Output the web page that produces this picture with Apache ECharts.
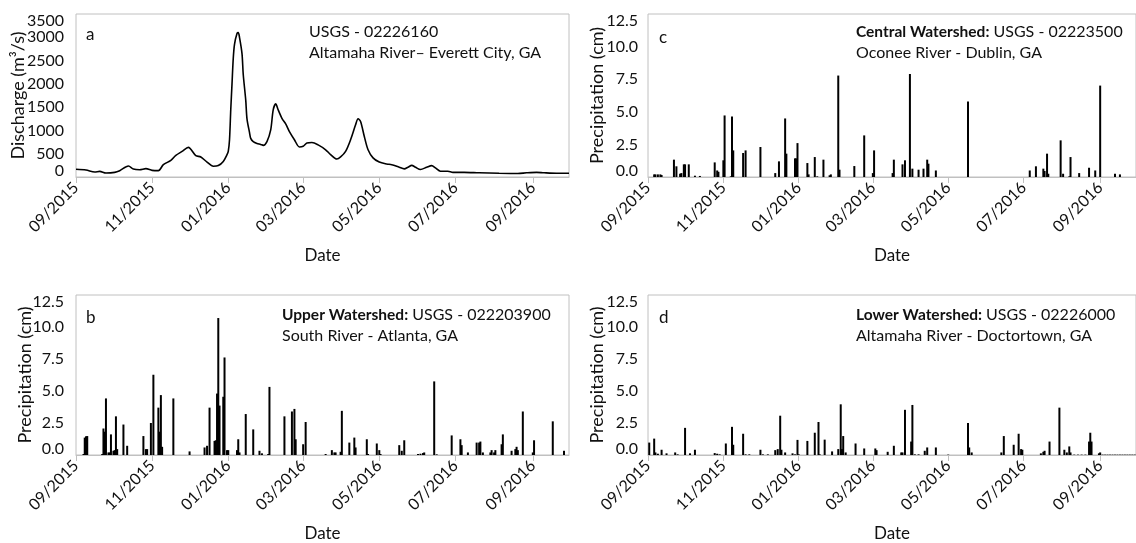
<!DOCTYPE html>
<html><head><meta charset="utf-8">
<script src="https://cdn.jsdelivr.net/npm/echarts@6/dist/echarts.min.js"></script>
<style>html,body{margin:0;padding:0;background:#fff}#c{width:1136px;height:543px}</style>
</head><body><div id="c"></div>
<script>
// ---- tick labels ----
const tickDates = ['2015-09-01','2015-11-01','2016-01-01','2016-03-01','2016-05-01','2016-07-01','2016-09-01'];
const tickLabels = ['09/2015','11/2015','01/2016','03/2016','05/2016','07/2016','09/2016'];

// ---- panel a: discharge (m3/s) ----
const discharge = [
['2015-09-01',165],['2015-09-09',150],['2015-09-16',107],['2015-09-20',121],['2015-09-25',86],['2015-10-02',100],
['2015-10-06',136],['2015-10-13',235],['2015-10-17',171],['2015-10-22',157],['2015-10-27',179],['2015-11-01',143],
['2015-11-06',136],['2015-11-10',264],['2015-11-16',357],['2015-11-20',464],['2015-11-25',550],['2015-11-30',636],
['2015-12-06',460],['2015-12-10',430],['2015-12-15',320],['2015-12-20',230],['2015-12-24',245],['2015-12-28',335],
['2015-12-31',480],['2016-01-01',550],['2016-01-02',800],['2016-01-03',1450],['2016-01-04',2000],['2016-01-05',2550],
['2016-01-06',2850],['2016-01-08',3080],['2016-01-09',3100],['2016-01-10',3000],['2016-01-12',2650],['2016-01-13',2200],
['2016-01-15',1650],['2016-01-16',1250],['2016-01-18',960],['2016-01-19',830],['2016-01-21',760],['2016-01-24',720],
['2016-01-27',700],['2016-01-29',680],['2016-02-01',760],['2016-02-04',1010],['2016-02-06',1440],['2016-02-08',1570],
['2016-02-10',1440],['2016-02-13',1260],['2016-02-16',1140],['2016-02-19',975],['2016-02-23',800],['2016-02-27',645],
['2016-03-01',660],['2016-03-04',730],['2016-03-08',740],['2016-03-13',690],['2016-03-19',585],['2016-03-23',480],
['2016-03-28',385],['2016-03-31',430],['2016-04-04',550],['2016-04-08',800],['2016-04-12',1120],['2016-04-14',1250],
['2016-04-16',1190],['2016-04-19',870],['2016-04-22',585],['2016-04-26',410],['2016-05-01',320],['2016-05-07',280],
['2016-05-11',265],['2016-05-17',210],['2016-05-21',175],['2016-05-24',210],['2016-05-27',250],['2016-05-30',210],
['2016-06-03',160],['2016-06-08',210],['2016-06-12',245],['2016-06-15',195],['2016-06-19',125],['2016-06-25',125],
['2016-06-29',100],['2016-07-08',100],['2016-07-20',90],['2016-08-05',80],['2016-08-20',75],['2016-08-27',90],
['2016-09-04',100],['2016-09-10',90],['2016-09-20',80],['2016-09-30',80]
];

// ---- panel b: upper watershed precipitation (cm) ----
const upperPrecip = [
['2015-09-07',0.08],['2015-09-08',1.36],['2015-09-09',1.46],['2015-09-10',1.48],['2015-09-22',0.08],['2015-09-23',2.07],
['2015-09-24',1.82],['2015-09-25',4.42],['2015-09-27',0.2],['2015-09-28',0.2],['2015-09-29',1.61],['2015-10-01',0.33],
['2015-10-02',0.38],['2015-10-03',3.02],['2015-10-04',0.46],['2015-10-09',2.38],['2015-10-12',0.72],['2015-10-25',1.48],
['2015-10-27',0.46],['2015-10-28',0.46],['2015-10-31',2.5],['2015-11-02',6.27],['2015-11-06',3.7],['2015-11-07',1.82],
['2015-11-08',4.68],['2015-11-09',0.64],['2015-11-18',4.42],['2015-12-01',0.28],['2015-12-13',0.59],['2015-12-15',0.72],
['2015-12-17',3.7],['2015-12-21',1.1],['2015-12-22',1.15],['2015-12-23',4.8],['2015-12-24',10.7],['2015-12-25',3.86],
['2015-12-28',4.55],['2015-12-29',7.62],['2015-12-31',0.38],['2016-01-01',0.38],['2016-01-08',0.38],['2016-01-09',1.23],
['2016-01-10',0.2],['2016-01-15',3.2],['2016-01-21',2.0],['2016-01-26',0.33],['2016-01-28',0.13],['2016-02-02',0.08],
['2016-02-03',5.32],['2016-02-15',3.02],['2016-02-21',3.4],['2016-02-23',3.6],['2016-02-24',1.23],['2016-03-01',0.84],
['2016-03-03',2.58],['2016-03-19',0.08],['2016-03-24',0.38],['2016-03-26',0.2],['2016-03-27',0.2],['2016-03-31',0.25],
['2016-04-01',3.45],['2016-04-07',0.97],['2016-04-11',1.36],['2016-04-12',0.59],['2016-04-21',1.23],['2016-04-22',0.08],
['2016-04-29',0.9],['2016-05-01',0.38],['2016-05-02',0.08],['2016-05-17',0.77],['2016-05-19',0.33],['2016-05-21',1.15],
['2016-06-01',0.08],['2016-06-03',0.1],['2016-06-05',0.15],['2016-06-06',0.2],['2016-06-14',5.75],['2016-06-16',0.05],
['2016-06-28',1.53],['2016-07-05',1.23],['2016-07-06',0.77],['2016-07-11',0.2],['2016-07-18',0.97],['2016-07-20',0.97],
['2016-07-21',1.05],['2016-07-23',0.2],['2016-07-29',0.2],['2016-07-30',0.38],['2016-08-01',0.2],['2016-08-02',0.38],
['2016-08-07',0.84],['2016-08-08',1.61],['2016-08-15',0.33],['2016-08-18',0.46],['2016-08-19',0.64],['2016-08-20',0.38],
['2016-08-24',3.4],['2016-09-01',0.2],['2016-09-02',1.15],['2016-09-17',2.63],['2016-09-26',0.33]
];

// ---- panel c: central watershed precipitation (cm) ----
const centralPrecip = [
['2015-09-06',0.2],['2015-09-07',0.2],['2015-09-09',0.2],['2015-09-11',0.2],['2015-09-12',0.15],['2015-09-22',1.33],
['2015-09-24',0.82],['2015-09-27',0.25],['2015-09-28',0.3],['2015-09-30',0.97],['2015-10-01',0.97],['2015-10-04',0.97],
['2015-10-09',0.1],['2015-10-13',0.08],['2015-10-25',1.12],['2015-10-27',0.5],['2015-10-28',0.4],['2015-11-01',1.28],
['2015-11-02',4.72],['2015-11-07',0.05],['2015-11-08',4.64],['2015-11-09',2.04],['2015-11-17',1.84],['2015-11-19',2.04],
['2015-12-01',2.3],['2015-12-13',0.3],['2015-12-16',1.2],['2015-12-21',4.49],['2015-12-22',1.79],['2015-12-29',1.43],
['2015-12-30',1.43],['2015-12-31',2.6],['2016-01-08',1.07],['2016-01-09',0.2],['2016-01-14',1.53],['2016-01-16',0.05],
['2016-01-21',1.33],['2016-01-26',0.13],['2016-01-27',0.2],['2016-02-02',7.78],['2016-02-03',0.56],['2016-02-15',0.84],
['2016-02-23',3.19],['2016-03-01',0.3],['2016-03-02',2.04],['2016-03-17',0.3],['2016-03-18',1.33],['2016-03-25',0.97],
['2016-03-27',1.28],['2016-03-31',7.9],['2016-04-02',0.64],['2016-04-07',0.56],['2016-04-11',0.64],['2016-04-14',1.33],
['2016-04-15',1.02],['2016-04-21',0.5],['2016-05-17',5.79],['2016-07-06',0.5],['2016-07-11',0.82],['2016-07-17',0.64],
['2016-07-18',0.46],['2016-07-20',1.79],['2016-07-21',0.25],['2016-07-31',2.81],['2016-08-02',0.25],['2016-08-07',0.05],
['2016-08-08',1.53],['2016-08-15',0.3],['2016-08-23',0.71],['2016-08-28',0.5],['2016-09-01',7.01],['2016-09-13',0.25],
['2016-09-17',0.2]
];

// ---- panel d: lower watershed precipitation (cm) ----
const lowerPrecip = [
['2015-09-02',0.97],['2015-09-06',1.28],['2015-09-07',0.2],['2015-09-09',0.1],['2015-09-12',0.41],['2015-09-16',0.13],
['2015-09-23',0.2],['2015-09-25',0.05],['2015-10-01',2.12],['2015-10-05',0.13],['2015-10-09',0.41],['2015-10-25',0.15],
['2015-10-27',0.1],['2015-10-29',0.05],['2015-11-03',0.9],['2015-11-08',2.2],['2015-11-09',0.8],['2015-11-17',1.66],
['2015-11-19',0.05],['2015-11-22',0.05],['2015-12-01',0.41],['2015-12-03',0.05],['2015-12-07',0.05],['2015-12-13',0.38],
['2015-12-15',0.46],['2015-12-17',3.07],['2015-12-18',0.41],['2015-12-21',0.2],['2015-12-27',0.13],['2015-12-29',0.05],
['2015-12-31',1.18],['2016-01-01',0.05],['2016-01-08',1.1],['2016-01-14',1.74],['2016-01-17',2.58],['2016-01-18',0.05],
['2016-01-22',1.2],['2016-01-28',0.28],['2016-02-02',0.46],['2016-02-04',3.96],['2016-02-05',0.46],['2016-02-06',1.48],
['2016-02-08',0.2],['2016-02-16',0.9],['2016-02-23',0.51],['2016-03-03',0.51],['2016-03-04',0.38],['2016-03-13',0.25],
['2016-03-18',0.72],['2016-03-24',0.2],['2016-03-25',0.2],['2016-03-27',3.53],['2016-04-01',1.05],['2016-04-02',3.91],
['2016-04-04',0.05],['2016-04-07',0.05],['2016-04-12',0.33],['2016-04-14',0.59],['2016-04-21',0.59],['2016-05-01',0.03],
['2016-05-17',2.5],['2016-05-18',0.59],['2016-05-20',0.2],['2016-06-13',0.2],['2016-06-15',1.48],['2016-06-23',0.8],
['2016-06-27',1.66],['2016-06-29',0.46],['2016-06-30',0.41],['2016-07-15',0.13],['2016-07-17',0.25],['2016-07-18',0.33],
['2016-07-22',1.05],['2016-07-30',3.7],['2016-08-03',0.41],['2016-08-05',0.2],['2016-08-07',0.67],['2016-08-08',0.2],
['2016-08-11',0.03],['2016-08-14',0.03],['2016-08-17',0.03],['2016-08-20',0.03],['2016-08-23',1.05],['2016-08-24',1.74],
['2016-08-25',1.05],['2016-08-31',0.13],['2016-09-01',0.2],['2016-09-03',0.03],['2016-09-05',0.03],['2016-09-07',0.03],
['2016-09-09',0.03],['2016-09-11',0.03],['2016-09-13',0.03],['2016-09-15',0.03],['2016-09-17',0.03],['2016-09-19',0.03],
['2016-09-21',0.03],['2016-09-23',0.03],['2016-09-25',0.03],['2016-09-27',0.03],['2016-09-29',0.03]
];

function toTime(s){const p=s.split('-').map(Number);return new Date(p[0],p[1]-1,p[2]).getTime();}
function toSeries(arr){return arr.map(function(d){return [toTime(d[0]), d[1]];});}
const tickTimes = tickDates.map(toTime);
const xMin = toTime('2015-09-01'), xMax = toTime('2016-09-30');
const FONT = 'Lato';
const TXT = '#111';
const BORDER = '#c0c0c0';

const grids = [
  {left:76, top:14, width:493, height:163},
  {left:76, top:295, width:493, height:163},
  {left:648, top:14, width:493, height:163},
  {left:648, top:295, width:493, height:163}
].map(g => Object.assign(g, {show:true, borderColor:BORDER, borderWidth:1, backgroundColor:'transparent', containLabel:false}));

function xAxis(i){
  return {
    type:'value', gridIndex:i, min:xMin, max:xMax,
    name:'Date', nameLocation:'middle', nameGap:70, nameMoveOverlap:false,
    nameTextStyle:{fontFamily:FONT, fontSize:17, color:TXT},
    axisLine:{show:true, lineStyle:{color:BORDER}},
    axisTick:{show:true, customValues:tickTimes, length:6, lineStyle:{color:BORDER}},
    axisLabel:{customValues:tickTimes, rotate:45, margin:8, fontFamily:FONT, fontSize:16, color:TXT,
      formatter:function(v){const k=tickTimes.indexOf(+v); return k>=0 ? tickLabels[k] : '';}},
    splitLine:{show:false}, minorTick:{show:false}
  };
}
function yAxis(i, max, interval, name, gap, decimals, margin){
  return {
    type:'value', gridIndex:i, min:0, max:max, interval:interval,
    name:name, nameLocation:'middle', nameGap:gap, nameMoveOverlap:false,
    nameTextStyle:{fontFamily:FONT, fontSize:18, color:TXT},
    axisLine:{show:false}, axisTick:{show:false}, splitLine:{show:false},
    axisLabel:{margin:margin, fontFamily:FONT, fontSize:16, lineHeight:13, color:TXT,
      showMinLabel:true, showMaxLabel:true, hideOverlap:false,
      verticalAlignMinLabel:'bottom', verticalAlignMaxLabel:'top',
      formatter:function(v){return decimals ? v.toFixed(1) : String(v);}}
  };
}

function note(left, top, line1Bold, line1, line2){
  const base = {fontFamily:FONT, fontSize:16, color:TXT, lineHeight:21};
  const text = (line1Bold ? '{b|' + line1Bold + '}' : '') + '{n|' + line1 + '}\n{n|' + line2 + '}';
  return {left:left, top:top, padding:0, text:text,
    textStyle:Object.assign({}, base, {fontWeight:'normal',
      rich:{b:Object.assign({}, base, {fontWeight:'bold', fontSize:15.5}), n:Object.assign({}, base, {fontWeight:'normal'})}})};
}
function letter(ch, left, top){
  return {left:left, top:top, padding:0, text:ch,
    textStyle:{fontFamily:FONT, fontSize:17, fontWeight:'normal', color:TXT, lineHeight:20}};
}

const chart = echarts.init(document.getElementById('c'), null, {renderer:'canvas'});
chart.setOption({
  animation:false,
  backgroundColor:'#fff',
  grid:grids,
  title:[
    letter('a', 86, 25), letter('b', 86, 308), letter('c', 659, 28), letter('d', 659, 308),
    note(309, 21, '', 'USGS - 02226160', 'Altamaha River\u2013 Everett City, GA'),
    note(282, 304, 'Upper Watershed:', ' USGS - 022203900', 'South River - Atlanta, GA'),
    note(856, 21, 'Central Watershed:', ' USGS - 02223500', 'Oconee River - Dublin, GA'),
    note(856, 304, 'Lower Watershed:', ' USGS - 02226000', 'Altamaha River - Doctortown, GA')
  ],
  xAxis:[xAxis(0), xAxis(1), xAxis(2), xAxis(3)],
  yAxis:[
    yAxis(0, 3500, 500, 'Discharge (m\u00B3/s)', 49, false, 12),
    yAxis(1, 12.5, 2.5, 'Precipitation (cm)', 42, true, 12),
    yAxis(2, 12.5, 2.5, 'Precipitation (cm)', 42, true, 10),
    yAxis(3, 12.5, 2.5, 'Precipitation (cm)', 42, true, 10)
  ],
  series:[
    {type:'line', xAxisIndex:0, yAxisIndex:0, data:toSeries(discharge), showSymbol:false, smooth:0.3,
      lineStyle:{color:'#000', width:1.6}},
    {type:'bar', xAxisIndex:1, yAxisIndex:1, data:toSeries(upperPrecip), barWidth:2, itemStyle:{color:'#000'}},
    {type:'bar', xAxisIndex:2, yAxisIndex:2, data:toSeries(centralPrecip), barWidth:2, itemStyle:{color:'#000'}},
    {type:'bar', xAxisIndex:3, yAxisIndex:3, data:toSeries(lowerPrecip), barWidth:2, itemStyle:{color:'#000'}}
  ]
});
</script></body></html>
